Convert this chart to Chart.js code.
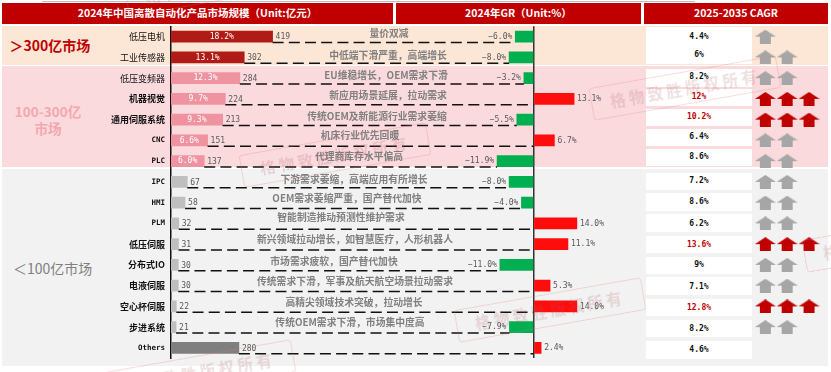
<!DOCTYPE html>
<html lang="zh"><head><meta charset="utf-8">
<style>
html,body{margin:0;padding:0;background:#fff;}
#stage{position:relative;width:831px;height:372px;overflow:hidden;font-family:"Noto Sans CJK SC",sans-serif;}
.abs{position:absolute;}
.hd{background:#C00000;color:#fff;font-weight:bold;font-size:10.5px;line-height:20px;text-align:center;top:3px;height:20.5px;white-space:nowrap;}
.cell{position:absolute;left:646px;width:106px;background:#fff;font:bold 8px "DejaVu Sans Mono","Noto Sans CJK SC",monospace;text-align:center;color:#111;}
.note{position:absolute;transform:translate(-50%,-50%);white-space:nowrap;font-weight:bold;font-size:9.8px;line-height:12px;color:#808080;}
.wm{position:absolute;width:188px;height:31px;border:1.5px solid rgba(225,120,125,.25);border-radius:3px;transform:translate(-50%,-50%) rotate(-10deg);color:rgba(170,90,95,.2);font-weight:bold;font-size:15.5px;line-height:31px;text-align:center;letter-spacing:3.5px;white-space:nowrap;}
canvas{position:absolute;left:0;top:0;}
</style>
<script src="https://cdn.jsdelivr.net/npm/chart.js@4/dist/chart.umd.min.js"></script>
</head><body>
<div id="stage">
  <div class="abs" style="left:42px;top:1px;width:653px;height:1px;background:#bdbdbd"></div>
  <div class="abs hd" style="left:2px;width:391px" id="h1"></div>
  <div class="abs hd" style="left:396px;width:245px" id="h2"></div>
  <div class="abs hd" style="left:644px;width:184px" id="h3"></div>
  <div class="abs" style="left:2px;top:26px;width:826px;height:38.5px;background:#FCE6D6"></div>
  <div class="abs" style="left:2px;top:65.5px;width:826px;height:101.5px;background:#FADADD"></div>
  <div class="abs" style="left:2px;top:169px;width:826px;height:196.5px;background:#F2F2F2"></div>
  <div id="cells"></div>
  <div class="abs" id="g1" style="left:9.5px;top:36px;color:#C00000;font-weight:bold;font-size:14px;line-height:19px;white-space:nowrap"></div>
  <div class="abs" id="g2" style="left:3px;top:103px;width:90px;color:#F4A7B0;font-weight:bold;font-size:13.6px;line-height:16.5px;text-align:center"></div>
  <div class="abs" id="g3" style="left:13px;top:259px;color:#7F7F7F;font-size:14px;line-height:19px;white-space:nowrap"></div>
  <canvas id="c" width="831" height="372"></canvas>
  <div id="notes"></div>
  <div id="marks"></div>
</div>
<script>
// ---- data ----
const categories = ["低压电机","工业传感器","低压变频器","机器视觉","通用伺服系统","CNC","PLC","IPC","HMI","PLM","低压伺服","分布式IO","电液伺服","空心杯伺服","步进系统","Others"];
const marketSize = [419,302,284,224,213,151,137,67,58,32,31,30,30,22,21,280];
const sharePct = [18.2,13.1,12.3,9.7,9.3,6.6,6.0,null,null,null,null,null,null,null,null,null];
const growthRate = [-6.0,-8.0,-3.2,13.1,-5.5,6.7,-11.9,-8.0,-4.0,14.0,11.1,-11.0,5.3,14.0,-7.9,2.4];
const cagrLabels = ["4.4%","6%","8.2%","12%","10.2%","6.4%","8.6%","7.2%","8.6%","6.2%","13.6%","9%","7.1%","12.8%","8.2%","4.6%"];
const arrowCounts = [1,2,2,3,3,2,2,2,2,2,3,2,2,3,2,0];
const hotRows = ["机器视觉","通用伺服系统","低压伺服","空心杯伺服"];
const plainLabels = ["低压电机","工业传感器","低压变频器"];
const comments = ["量价双减","中低端下滑严重，高端增长","EU维稳增长，OEM需求下滑","新应用场景延展，拉动需求","传统OEM及新能源行业需求萎缩","机床行业优先回暖","代理商库存水平偏高","下游需求萎缩，高端应用有所增长","OEM需求萎缩严重，国产替代加快","智能制造推动预测性维护需求","新兴领域拉动增长，如智慧医疗，人形机器人","市场需求疲软，国产替代加快","传统需求下滑，军事及航天航空场景拉动需求","高精尖领域技术突破，拉动增长","传统OEM需求下滑，市场集中度高"];
const headers = ["2024年中国离散自动化产品市场规模（Unit:亿元）","2024年GR（Unit:%）","2025-2035 CAGR"];
const groupLabels = ["＞300亿市场","100-300亿<br>市场","＜100亿市场"];
const watermarkText = "格物致胜版权所有";

// ---- layout (not data) ----
const commentX = [389,388,386,388,377,360,359,354,347,341,355,334,355,354,350];
const commentY = [33,55,75,95,116,135,156,179,198,217,239,261,281,302,322];
const cellTop = [27,27,68.7,88.7,108.7,128.7,148.7,172.7,193.3,214,236,256.7,277,299,320,341];
const cellH = [37,0,18.5,17.3,17.3,17.3,17.3,17.5,17.7,18,16.7,17.3,18,17.3,17,18];
const textY = [36.7,55,77,97,117,137,157,181,202,224,244.7,265,287,308,329,350];
const watermarks = [[685,88],[335,155],[200,372],[550,310],[898,240],[220,-16]];

document.getElementById('h1').textContent = headers[0];
document.getElementById('h2').textContent = headers[1];
document.getElementById('h3').textContent = headers[2];
document.getElementById('g1').textContent = groupLabels[0];
document.getElementById('g2').innerHTML = groupLabels[1];
document.getElementById('g3').textContent = groupLabels[2];

const cellsEl = document.getElementById('cells');
cagrLabels.forEach((t,i)=>{
  if(cellH[i]>0){const b=document.createElement('div');b.className='cell';b.style.top=cellTop[i]+'px';b.style.height=cellH[i]+'px';cellsEl.appendChild(b);}
  const d=document.createElement('div');d.className='cell';d.style.background='transparent';
  d.style.top=(textY[i]-6)+'px';d.style.lineHeight='12px';d.textContent=t;
  if(hotRows.includes(categories[i])) d.style.color='#C00000';
  cellsEl.appendChild(d);
});
const notesEl = document.getElementById('notes');
comments.forEach((t,i)=>{const d=document.createElement('div');d.className='note';d.style.left=commentX[i]+'px';d.style.top=commentY[i]+'px';d.textContent=t;notesEl.appendChild(d);});
const marksEl = document.getElementById('marks');
watermarks.forEach(p=>{const d=document.createElement('div');d.className='wm';d.style.left=p[0]+'px';d.style.top=p[1]+'px';d.textContent=watermarkText;marksEl.appendChild(d);});

function arrowSprite(color){
  const s=document.createElement('canvas');s.width=21;s.height=14;
  const g=s.getContext('2d');g.fillStyle=color;g.beginPath();
  g.moveTo(10.5,0);g.lineTo(21,7);g.lineTo(16,7);g.lineTo(16,14);g.lineTo(5,14);g.lineTo(5,7);g.lineTo(0,7);g.closePath();g.fill();
  return s;
}
const redArrow=arrowSprite('#C00000'), greyArrow=arrowSprite('#A6A6A6');
const isRedRow=l=>hotRows.includes(l);
const arrowPts=(pred)=>{const out=[];arrowCounts.forEach((n,i)=>{if(pred(categories[i]))for(let k=1;k<=n;k++)out.push({x:k,y:categories[i]});});return out;};

const sizeColor=i=> i<2?'#B01B17': i<7?'#F093A0': i<15?'#BFBFBF':'#7F7F7F';

const annotate={id:'annotate',
  afterDatasetsDraw(chart){
    const {ctx,scales}=chart; const xL=scales.x,xG=scales.xGR,y=scales.y;
    ctx.save();
    categories.forEach((c,i)=>{
      const yc=y.getPixelForValue(i);
      const xa=xL.getPixelForValue(marketSize[i]);
      const gv=growthRate[i];
      const xb=xG.getPixelForValue(Math.min(gv,0));
      ctx.strokeStyle='#111';ctx.lineWidth=1.4;ctx.setLineDash([11,5.2]);
      ctx.beginPath();ctx.moveTo(xa,yc+5.8);ctx.lineTo(xb,yc+5.8);ctx.stroke();ctx.setLineDash([]);
      ctx.textBaseline='middle';
      ctx.font='8px "DejaVu Sans Mono",monospace';ctx.fillStyle='#595959';ctx.textAlign='left';
      ctx.fillText(String(marketSize[i]),xa+3,yc+0.5);
      if(sharePct[i]!=null){
        ctx.fillStyle='#fff';ctx.textAlign='center';
        ctx.fillText(sharePct[i].toFixed(1)+'%',(xL.getPixelForValue(0)+xa)/2,yc);
      }
      ctx.fillStyle='#595959';
      const gx=xG.getPixelForValue(gv);
      const gt=gv.toFixed(1)+'%';
      if(gv<0){ctx.textAlign='right';ctx.fillText(gt.replace('-','−'),gx-3,yc);}
      else{ctx.textAlign='left';ctx.fillText(gt,gx+3,yc);}
    });
    ctx.restore();
  }};

new Chart(document.getElementById('c'),{
  data:{labels:categories,datasets:[
    {type:'bar',label:'市场规模',data:marketSize,xAxisID:'x',yAxisID:'y',grouped:false,barThickness:11,backgroundColor:categories.map((_,i)=>sizeColor(i))},
    {type:'bar',label:'GR',data:growthRate,xAxisID:'xGR',yAxisID:'y',grouped:false,barThickness:11,backgroundColor:growthRate.map(v=>v<0?'#00B050':'#FF0D0D')},
    {type:'scatter',label:'up',data:arrowPts(l=>!isRedRow(l)),xAxisID:'xArrow',yAxisID:'y',pointStyle:greyArrow,pointRadius:7},
    {type:'scatter',label:'hot',data:arrowPts(isRedRow),xAxisID:'xArrow',yAxisID:'y',pointStyle:redArrow,pointRadius:7}
  ]},
  plugins:[annotate],
  options:{
    indexAxis:'y',responsive:false,animation:false,
    layout:{padding:{left:0,right:0,top:26.3,bottom:13.7}},
    plugins:{legend:{display:false},tooltip:{enabled:false}},
    scales:{
      y:{type:'category',position:'left',offset:true,
        afterFit(s){s.width=171;},
        border:{display:true,color:'#111',width:1.5},
        grid:{display:false,drawTicks:false},
        ticks:{padding:6,autoSkip:false,color:'#111',
          font(ctx){const l=categories[ctx.index]||'';
            if(/^[A-Za-z]+$/.test(l))return {family:'"DejaVu Sans Mono",monospace',size:7.5,weight:'bold'};
            return {family:'"Noto Sans CJK SC"',size:9,weight:plainLabels.includes(l)?'normal':'bold'};}}},
      x:{type:'linear',display:false,min:0,max:2689},
      xGR:{type:'linear',min:-117.76,max:93.9,position:'bottom',
        afterBuildTicks(s){s.ticks=[{value:0}];},
        grid:{color:'#333',lineWidth:1.5,drawTicks:false},
        border:{display:false},ticks:{display:false}},
      xArrow:{type:'linear',display:false,min:-26.2,max:3.64}
    }
  }
});
</script>
</body></html>
